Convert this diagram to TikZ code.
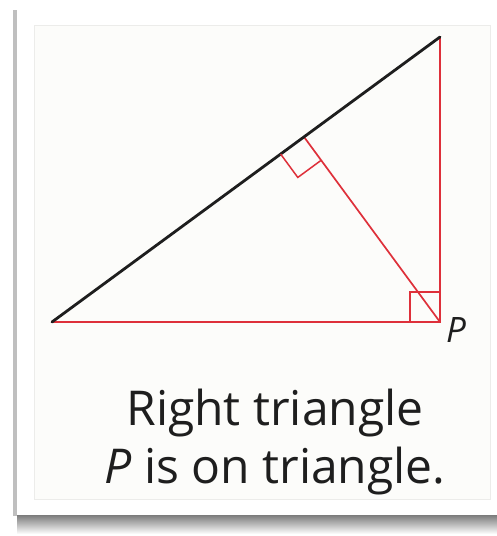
\documentclass[tikz,border=0pt]{standalone}
\usepackage{fontspec}
\setmainfont{Open Sans}
\usepackage{tikz}
\usetikzlibrary{calc,shadings}
\definecolor{leg}{RGB}{222,48,58}
\definecolor{ink}{RGB}{30,30,30}
\definecolor{panel}{RGB}{252,252,250}
\definecolor{rim}{RGB}{236,236,234}
\tikzset{
  hyp/.style={draw=ink,line width=2.8pt,line cap=round},
  side/.style={draw=leg,line width=1.7pt},
  sq/.style={draw=leg,line width=1.5pt},
  lbl/.style={font=\fontsize{35}{35}\selectfont\itshape,text=ink,inner sep=0pt},
  captext/.style={font=\fontsize{48}{58}\selectfont,text=ink,align=center,inner sep=0pt},
}
\begin{document}
\begin{tikzpicture}[x=1pt,y=-1pt]
  \useasboundingbox (0,0) rectangle (497,536);
  % card with its shadow
  \shade[top color=black!60,bottom color=white] (17,512) rectangle (497,534);
  \fill[black!25] (13,10) rectangle (17,516);
  \fill[white] (17,7) rectangle (497,515);
  \filldraw[fill=panel,draw=rim,line width=0.6pt] (34,25) rectangle (490,499);
  % triangle
  \coordinate (A) at (52,322);
  \coordinate (P) at (440,322);
  \coordinate (B) at (440,37);
  \coordinate (F) at ($(A)!(P)!(B)$);
  \draw[side] (A) -- (P) -- (B);
  \draw[side] (P) -- (F);
  \draw[hyp] (A) -- (B);
  % right angle marks
  \coordinate (fa) at ($(F)!29pt!(A)$);
  \coordinate (fp) at ($(F)!29pt!(P)$);
  \coordinate (pa) at ($(P)!30pt!(A)$);
  \coordinate (pb) at ($(P)!30pt!(B)$);
  \draw[sq] (fa) -- ($(fa)+(fp)-(F)$) -- (fp);
  \draw[sq] (pa) -- ($(pa)+(pb)-(P)$) -- (pb);
  \node[lbl,anchor=base west] (p) at (446,342) {P};
  \node[captext,anchor=base] (caption) at (275,483) {Right triangle\\\textit{P} is on triangle.};
\end{tikzpicture}
\end{document}
